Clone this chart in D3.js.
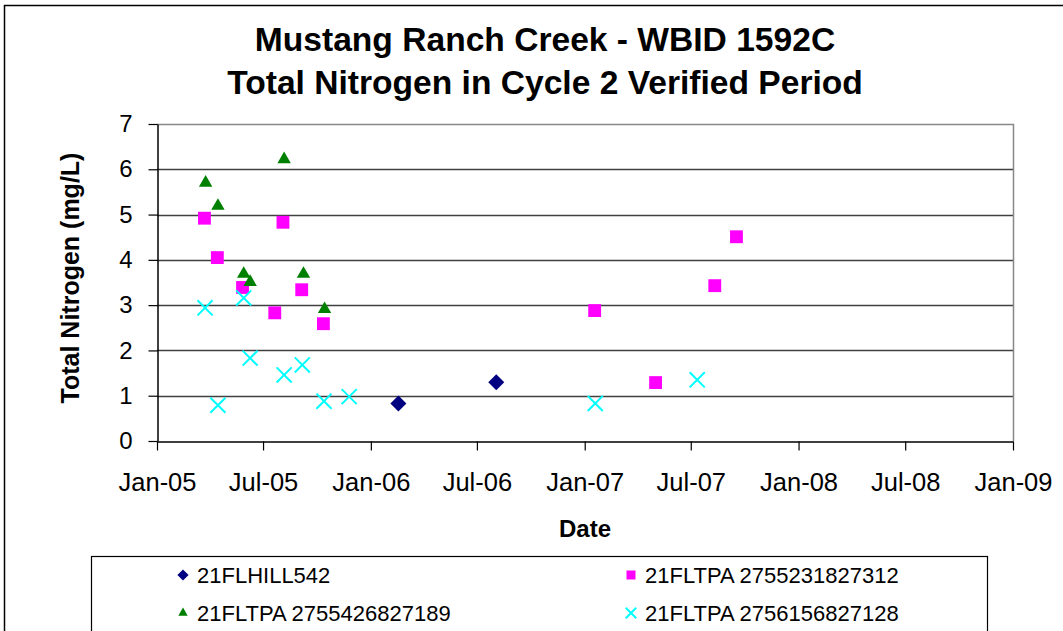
<!DOCTYPE html>
<html>
<head>
<meta charset="utf-8">
<script src="https://cdn.jsdelivr.net/npm/d3@7"></script>
<style>
  body { margin: 0; background: #fff; }
  svg { display: block; font-family: Arial, "Liberation Sans", sans-serif; }
</style>
</head>
<body>
<svg id="chart" width="1063" height="631"></svg>
<script>
// station samples (date, mg/L)
const hillDates = ["2006-02-17", "2006-08-03"];
const hillValues = [0.83, 1.30];

const tpa312Dates = ["2005-03-23", "2005-04-14", "2005-05-27", "2005-07-21", "2005-08-04", "2005-09-05",
  "2005-10-12", "2007-01-18", "2007-05-02", "2007-08-11", "2007-09-17"];
const tpa312Values = [4.92, 4.05, 3.39, 2.83, 4.83, 3.34, 2.59, 2.88, 1.29, 3.43, 4.51];

const tpa189Dates = ["2005-03-25", "2005-04-15", "2005-05-29", "2005-06-09", "2005-08-06", "2005-09-08", "2005-10-14"];
const tpa189Values = [5.70, 5.19, 3.69, 3.51, 6.22, 3.69, 2.91];

const tpa128Dates = ["2005-03-24", "2005-04-15", "2005-05-29", "2005-06-09", "2005-08-06", "2005-09-06",
  "2005-10-13", "2005-11-25", "2007-01-19", "2007-07-12"];
const tpa128Values = [2.94, 0.79, 3.16, 1.83, 1.46, 1.68, 0.88, 0.98, 0.83, 1.35];

const yTicks = [0, 1, 2, 3, 4, 5, 6, 7];
const titleLines = ["Mustang Ranch Creek - WBID 1592C", "Total Nitrogen in Cycle 2 Verified Period"];

const parse = d3.timeParse("%Y-%m-%d");
const zip = (dates, vals) => dates.map((d, i) => ({ date: parse(d), value: vals[i] }));

const series = [
  { name: "21FLHILL542", data: zip(hillDates, hillValues), color: "#000080", shape: "diamond" },
  { name: "21FLTPA 2755231827312", data: zip(tpa312Dates, tpa312Values), color: "#ff00ff", shape: "square" },
  { name: "21FLTPA 2755426827189", data: zip(tpa189Dates, tpa189Values), color: "#008000", shape: "triangle" },
  { name: "21FLTPA 2756156827128", data: zip(tpa128Dates, tpa128Values), color: "#00ffff", shape: "x" }
];

const svg = d3.select("#chart");
const plotLeft = 157, plotRight = 1013, plotTop = 124, plotBottom = 441;

// outer chart border
svg.append("path")
  .attr("d", "M4.5,640V5.5H1070")
  .attr("fill", "none").attr("stroke", "#000").attr("stroke-width", 1.5);

const x = d3.scaleTime()
  .domain([parse("2005-01-01"), parse("2009-01-01")])
  .range([plotLeft, plotRight]);
const y = d3.scaleLinear().domain([0, 7]).range([plotBottom, plotTop]);

// title
svg.append("g").selectAll("text")
  .data(titleLines)
  .join("text")
  .attr("x", 545)
  .attr("y", (d, i) => 51 + i * 43)
  .attr("text-anchor", "middle")
  .attr("font-size", 33.6)
  .attr("font-weight", "bold")
  .text(d => d);

// gridlines
svg.append("g").selectAll("line")
  .data(yTicks.filter(t => t > 0 && t < 7))
  .join("line")
  .attr("x1", plotLeft).attr("x2", plotRight)
  .attr("y1", d => Math.round(y(d)) + 0.5).attr("y2", d => Math.round(y(d)) + 0.5)
  .attr("stroke", "#404040").attr("stroke-width", 1.3);

// plot border top/right
svg.append("path")
  .attr("d", `M${plotLeft},${plotTop + 0.5}H${plotRight + 0.5}V${plotBottom}`)
  .attr("fill", "none").attr("stroke", "#888").attr("stroke-width", 1.5);

// axes
const xAxis = svg.append("g")
  .attr("transform", `translate(0,${plotBottom + 0.5})`)
  .call(d3.axisBottom(x)
    .ticks(d3.timeMonth.every(6))
    .tickFormat(d3.timeFormat("%b-%y"))
    .tickSizeInner(9).tickSizeOuter(0).tickPadding(22));
xAxis.select(".domain").attr("stroke", "#000").attr("stroke-width", 1.5);
xAxis.selectAll(".tick line").attr("stroke", "#000").attr("stroke-width", 1.2);
xAxis.selectAll("text").attr("font-size", 25.5).attr("fill", "#000").attr("font-family", null);

const yAxis = svg.append("g")
  .attr("transform", `translate(${plotLeft + 0.5},0)`)
  .call(d3.axisLeft(y).tickValues(yTicks).tickFormat(d3.format("d"))
    .tickSizeInner(9).tickSizeOuter(0).tickPadding(16));
yAxis.select(".domain").attr("stroke", "#000").attr("stroke-width", 1.5);
yAxis.selectAll(".tick line").attr("stroke", "#000").attr("stroke-width", 1.2);
yAxis.selectAll("text").attr("font-size", 24).attr("fill", "#000").attr("font-family", null);

// axis titles
svg.append("text")
  .attr("x", 585).attr("y", 537)
  .attr("text-anchor", "middle")
  .attr("font-size", 24).attr("font-weight", "bold")
  .text("Date");

svg.append("text")
  .attr("transform", "translate(79,278) rotate(-90)")
  .attr("text-anchor", "middle")
  .attr("font-size", 25)
  .attr("font-weight", "bold")
  .text("Total Nitrogen (mg/L)");

// marker shapes
function marker(sel, shape, color, scale) {
  if (shape === "diamond") {
    sel.append("path")
      .attr("d", d3.symbol(d3.symbolSquare, 128 * scale * scale)())
      .attr("transform", "rotate(45)")
      .attr("fill", color);
  } else if (shape === "square") {
    sel.append("path")
      .attr("d", d3.symbol(d3.symbolSquare, 165 * scale * scale)())
      .attr("fill", color);
  } else if (shape === "triangle") {
    sel.append("path")
      .attr("d", d3.symbol(d3.symbolTriangle, 78 * scale * scale)())
      .attr("fill", color);
  } else {
    sel.append("path")
      .attr("d", d3.symbol(d3.symbolTimes, 150 * scale * scale)())
      .attr("fill", "none").attr("stroke", color).attr("stroke-width", 2);
  }
}

// points
series.forEach(s => {
  svg.append("g").selectAll("g")
    .data(s.data)
    .join("g")
    .attr("transform", d => `translate(${x(d.date)},${y(d.value)})`)
    .each(function() { marker(d3.select(this), s.shape, s.color, 1); });
});

// legend
svg.append("rect")
  .attr("x", 91.5).attr("y", 556.5).attr("width", 896).attr("height", 100)
  .attr("fill", "#fff").attr("stroke", "#000").attr("stroke-width", 1.2);

const legendPos = [[183, 575], [631, 575], [183, 613], [631, 613]];
series.forEach((s, i) => {
  const g = svg.append("g").attr("transform", `translate(${legendPos[i][0]},${legendPos[i][1]})`);
  marker(g, s.shape, s.color, 0.7);
  g.append("text")
    .attr("x", 14).attr("y", 8)
    .attr("font-size", 22)
    .text(s.name);
});
</script>
</body>
</html>
